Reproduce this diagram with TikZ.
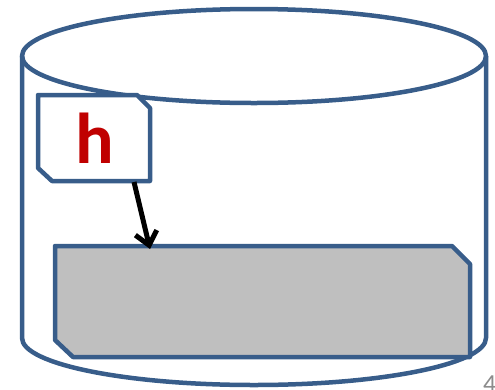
\documentclass[tikz,border=0pt]{standalone}
\usepackage{fontspec}
\setmainfont{Carlito}
\usetikzlibrary{arrows.meta}
\definecolor{edgeblue}{HTML}{385D8A}
\definecolor{hred}{HTML}{C00000}
\definecolor{blockgray}{HTML}{BFBFBF}
\definecolor{numgray}{HTML}{8C8C8C}
\tikzset{
  outline/.style={draw=edgeblue, line width=4.5pt, line join=round},
  pointer/.style={draw=black, line width=5pt, -{Straight Barb[length=13pt,width=22pt,line width=5pt]}},
}
\begin{document}
\begin{tikzpicture}[x=1pt,y=-1pt]
  \useasboundingbox (0,0) rectangle (495,389);
  % database cylinder: body with rounded base, then the top lid
  \draw[outline] (22,56) -- (22,338) arc[start angle=180, end angle=0, x radius=232, y radius=47] -- (486,56);
  \draw[outline] (254,56) ellipse[x radius=232, y radius=47];
  % pointer box holding h
  \draw[outline, fill=white] (38,95) -- (137,95) -- (150,108) -- (150,181) -- (52,181) -- (38,168) -- cycle;
  \node[text=hred, font=\bfseries\fontsize{72}{72}\selectfont, inner sep=0pt] (h) at (95,138) {h};
  \coordinate (hbot) at (134,182);
  % data block
  \draw[outline, fill=blockgray] (55,246) -- (452,246) -- (470,264) -- (470,357) -- (73,357) -- (55,340) -- cycle;
  \coordinate (blocktop) at (150,249);
  \draw[pointer] (hbot) -- (blocktop);
  % page number
  \node[text=numgray, font=\fontsize{26}{26}\selectfont, anchor=north west, inner sep=0pt] (pg) at (483,376) {4};
\end{tikzpicture}
\end{document}
